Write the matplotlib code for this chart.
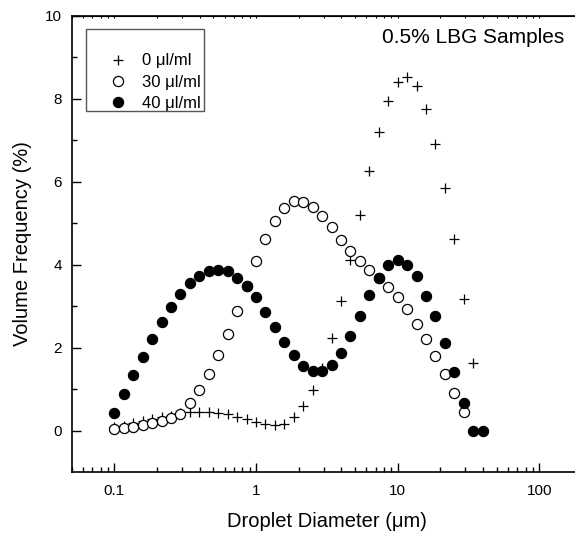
import matplotlib
matplotlib.use('Agg')
import matplotlib.pyplot as plt
from matplotlib.patches import Rectangle
from matplotlib.ticker import FixedLocator, NullFormatter, LogLocator

plt.rcParams['font.family'] = ['Liberation Sans', 'DejaVu Sans']

# size classes (um), 15 per decade
diameter = [0.1, 0.1166, 0.1359, 0.1585, 0.1848, 0.2154, 0.2512, 0.2929, 0.3415, 0.3981,
            0.4642, 0.5412, 0.6310, 0.7356, 0.8577, 1.0, 1.166, 1.359, 1.585, 1.848,
            2.154, 2.512, 2.929, 3.415, 3.981, 4.642, 5.412, 6.310, 7.356, 8.577,
            10.0, 11.66, 13.59, 15.85, 18.48, 21.54, 25.12, 29.29, 34.15, 39.81]

freq_0 = [0.08, 0.12, 0.17, 0.22, 0.27, 0.32, 0.36, 0.42, 0.44, 0.45,
          0.45, 0.43, 0.39, 0.33, 0.27, 0.20, 0.15, 0.13, 0.16, 0.33,
          0.58, 0.98, 1.50, 2.24, 3.13, 4.12, 5.21, 6.26, 7.19, 7.94,
          8.40, 8.52, 8.30, 7.76, 6.92, 5.85, 4.62, 3.18, 1.63]

freq_30 = [0.03, 0.06, 0.09, 0.13, 0.19, 0.24, 0.31, 0.41, 0.67, 0.98,
           1.36, 1.81, 2.32, 2.89, 3.49, 4.09, 4.63, 5.06, 5.38, 5.54,
           5.52, 5.39, 5.18, 4.90, 4.59, 4.33, 4.09, 3.88, 3.67, 3.47,
           3.22, 2.94, 2.57, 2.20, 1.80, 1.36, 0.91, 0.45]

freq_40 = [0.42, 0.87, 1.33, 1.78, 2.22, 2.62, 2.98, 3.29, 3.55, 3.73,
           3.85, 3.88, 3.84, 3.69, 3.48, 3.22, 2.86, 2.49, 2.13, 1.81,
           1.56, 1.44, 1.44, 1.58, 1.88, 2.28, 2.77, 3.28, 3.69, 3.99,
           4.11, 4.00, 3.73, 3.25, 2.76, 2.11, 1.40, 0.67, 0.0, 0.0]

labels = ['0 \u03bcl/ml', '30 \u03bcl/ml', '40 \u03bcl/ml']

fig = plt.figure(figsize=(5.75, 5.38), dpi=100)
ax = fig.add_axes([0.1247, 0.1227, 0.8875, 0.8476])

ax.plot(diameter[:len(freq_0)], freq_0, linestyle='none', marker='+', markersize=7.5,
        markeredgewidth=0.9, color='black', label=labels[0])
ax.plot(diameter[:len(freq_30)], freq_30, linestyle='none', marker='o', markersize=7.3,
        markeredgewidth=0.9, markerfacecolor='white', markeredgecolor='black', label=labels[1])
ax.plot(diameter, freq_40, linestyle='none', marker='o', markersize=7.3,
        markeredgewidth=0.9, color='black', label=labels[2])

ax.set_xscale('log')
ax.set_xlim(0.05, 200)
ax.set_ylim(-1, 10)

ax.xaxis.set_major_locator(FixedLocator([0.1, 1, 10, 100]))
ax.set_xticklabels(['0.1', '1', '10', '100'])
ax.xaxis.set_minor_locator(LogLocator(base=10, subs=range(2, 10), numticks=20))
ax.xaxis.set_minor_formatter(NullFormatter())
ax.yaxis.set_major_locator(FixedLocator([0, 2, 4, 6, 8, 10]))
ax.yaxis.set_minor_locator(FixedLocator([1, 3, 5, 7, 9]))

ax.tick_params(which='major', direction='in', length=6.5, width=1, labelsize=11)
ax.tick_params(which='minor', direction='in', length=3.6, width=1)
ax.tick_params(axis='x', which='major', pad=8.5)
ax.tick_params(axis='y', which='major', pad=7)

for s in ax.spines.values():
    s.set_linewidth(1.2)

# short ticks along the top frame
top = ax.secondary_xaxis('top')
top.xaxis.set_major_locator(FixedLocator([0.1, 1, 10, 100]))
top.xaxis.set_minor_locator(LogLocator(base=10, subs=range(2, 10), numticks=20))
top.xaxis.set_major_formatter(NullFormatter())
top.xaxis.set_minor_formatter(NullFormatter())
top.tick_params(which='both', direction='in', length=1.5, width=0.8)

ax.set_xlabel('Droplet Diameter (\u03bcm)', fontsize=14.5, labelpad=10)
ax.set_ylabel('Volume Frequency (%)', fontsize=14.5, labelpad=9)

ax.text(0.966, 0.953, '0.5% LBG Samples', transform=ax.transAxes, fontsize=15,
        ha='right', va='center')

# legend entries without frame, box drawn separately (extra space on top like the original)
leg = ax.legend(loc='upper left', bbox_to_anchor=(0.0647, 0.918), fontsize=12,
                frameon=False, borderaxespad=0, borderpad=0,
                handletextpad=0.64, labelspacing=0.37, handlelength=1.6)
ax.add_patch(Rectangle((0.028, 0.7917), 0.2313, 0.1798, transform=ax.transAxes,
                       facecolor='none', edgecolor='#555555', linewidth=1.0, zorder=5))

fig.savefig('out.png', dpi=100)
